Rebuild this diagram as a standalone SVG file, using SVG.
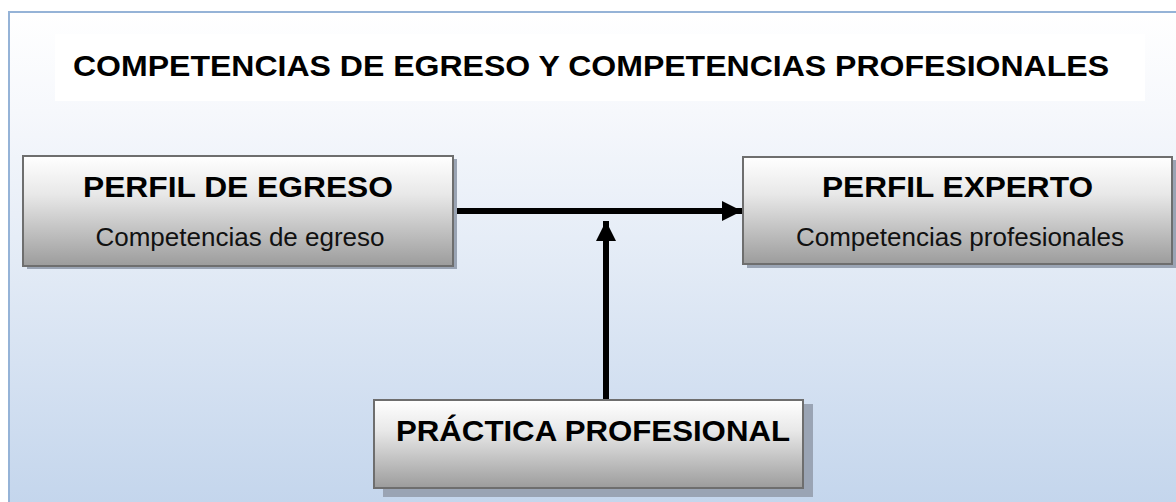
<svg xmlns="http://www.w3.org/2000/svg" width="1176" height="502" viewBox="0 0 1176 502">
<style>
.box{stroke:#6e6e6e;stroke-width:2;fill:url(#boxg)}
.shadow{fill:#9aa4b4}
.h{font-family:"Liberation Sans",Arial,sans-serif;font-weight:bold;fill:#000}
.s{font-family:"Liberation Sans",Arial,sans-serif;fill:#111}
.conn{stroke:#000;stroke-width:6;fill:none}
</style>
<defs>
<linearGradient id="bg" x1="0" y1="0" x2="0" y2="1">
<stop offset="0" stop-color="#ffffff"/>
<stop offset="0.2" stop-color="#f6f8fc"/>
<stop offset="1" stop-color="#c3d5ec"/>
</linearGradient>
<linearGradient id="boxg" x1="0" y1="0" x2="0" y2="1">
<stop offset="0" stop-color="#ffffff"/>
<stop offset="0.35" stop-color="#e8e8e8"/>
<stop offset="1" stop-color="#9c9c9c"/>
</linearGradient>
<marker id="ah" markerUnits="userSpaceOnUse" markerWidth="22" markerHeight="22" refX="20" refY="10" orient="auto">
<path d="M0,0 L20,10 L0,20 Z" fill="#000"/>
</marker>
</defs>
<rect x="0" y="0" width="1176" height="502" fill="#ffffff"/>
<rect x="9" y="12" width="1180" height="500" fill="url(#bg)" stroke="#95b3d7" stroke-width="2"/>
<rect x="55" y="34" width="1090" height="67" fill="#ffffff"/>
<g id="title">
<text class="h" x="73" y="76" font-size="30" textLength="1036" lengthAdjust="spacingAndGlyphs">COMPETENCIAS DE EGRESO Y COMPETENCIAS PROFESIONALES</text>
</g>
<g id="connectors">
<line class="conn" x1="454" y1="211" x2="742" y2="211" marker-end="url(#ah)"/>
<line class="conn" x1="606" y1="400" x2="606" y2="221" marker-end="url(#ah)"/>
</g>
<g id="perfil-egreso">
<rect class="shadow" x="27" y="159" width="430" height="110"/>
<rect class="box" x="23" y="156" width="430" height="110"/>
<text class="h" x="83" y="197" font-size="29" textLength="310" lengthAdjust="spacingAndGlyphs">PERFIL DE EGRESO</text>
<text class="s" x="240" y="246" font-size="26" text-anchor="middle">Competencias de egreso</text>
</g>
<g id="perfil-experto">
<rect class="shadow" x="747" y="160" width="430" height="108"/>
<rect class="box" x="743" y="157" width="429" height="107"/>
<text class="h" x="822" y="197" font-size="29" textLength="271" lengthAdjust="spacingAndGlyphs">PERFIL EXPERTO</text>
<text class="s" x="960" y="246" font-size="26" text-anchor="middle">Competencias profesionales</text>
</g>
<g id="practica-profesional">
<rect class="shadow" x="383" y="404" width="430" height="93"/>
<rect class="box" x="374" y="400" width="429" height="88"/>
<text class="h" x="396" y="441" font-size="30" textLength="394" lengthAdjust="spacingAndGlyphs">PRÁCTICA PROFESIONAL</text>
</g>
</svg>
